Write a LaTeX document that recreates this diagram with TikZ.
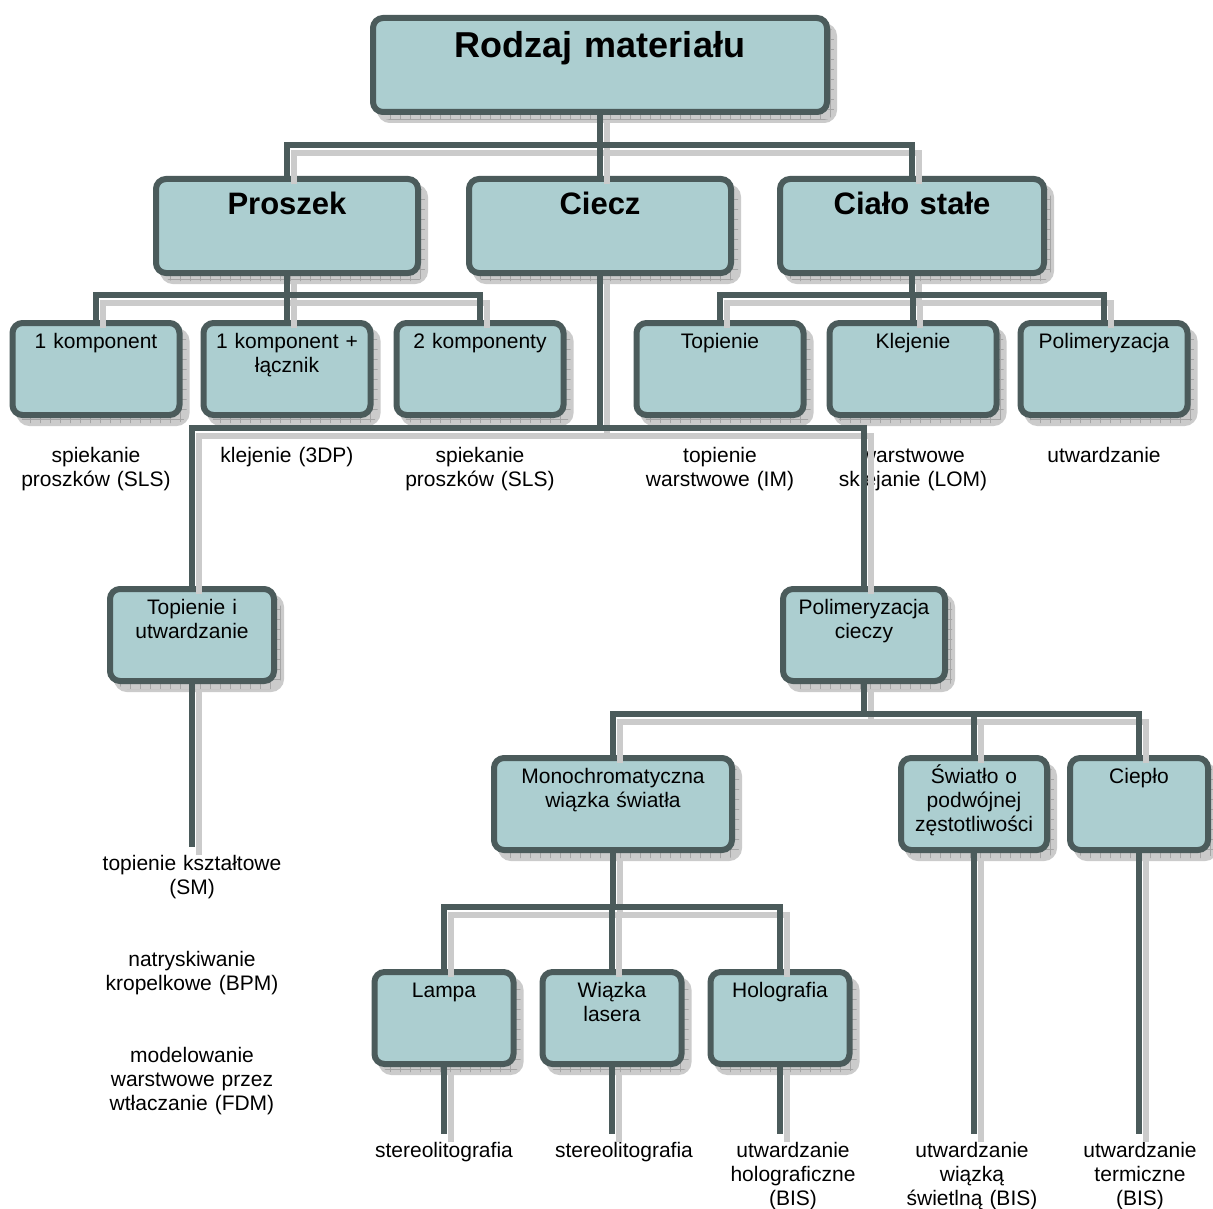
\documentclass[tikz,border=0pt]{standalone}
\usepackage{fontspec}
\setmainfont{Liberation Sans}
\usetikzlibrary{shadows,patterns.meta}

\definecolor{boxfill}{HTML}{ACCED0}
\definecolor{edge}{HTML}{4B5B5B}
\definecolor{shadefill}{HTML}{CBCBCB}
\definecolor{shadegrid}{HTML}{A5A5A5}

\tikzset{
  box/.style={draw=edge, fill=boxfill, line width=6pt, rounded corners=10pt,
    align=center, inner xsep=4pt, anchor=north,
    general shadow={shadow xshift=7pt, shadow yshift=-8pt, fill=shadefill,
      draw=shadefill, line width=6pt,
      postaction={pattern={Hatch[angle=0,distance=10pt,line width=.6pt]},
        pattern color=shadegrid}}},
  top/.style={box, text width=#1, font=\fontsize{36}{40}\selectfont\bfseries,
    inner ysep=14pt, text height=26pt, text depth=40pt},
  big/.style={box, text width=#1, font=\fontsize{31}{36}\selectfont\bfseries,
    inner ysep=14pt, text height=22pt, text depth=44pt},
  small/.style={box, text width=#1, font=\fontsize{21}{24}\selectfont,
    inner ysep=10pt, text height=15pt, text depth=57pt},
  lab/.style={text width=220pt, align=center, anchor=north,
    font=\fontsize{21}{24}\selectfont, inner xsep=0pt, inner ysep=8pt,
    text height=15pt},
  link/.style={draw=edge, line width=6pt},
  linkshade/.style={draw=shadefill, line width=6pt,
    transform canvas={xshift=7pt, yshift=-8pt}}
}

\begin{document}
\begin{tikzpicture}[x=1pt, y=-1pt]
  \fill[white] (0,0) rectangle (1213,1209);
  \useasboundingbox (0,0) rectangle (1213,1209);

  % boxes
  \node[top=446pt] (root) at (600,15) {Rodzaj materiału};
  \node[big=254pt] (proszek) at (287,176) {Proszek};
  \node[big=254pt] (ciecz) at (600,176) {Ciecz};
  \node[big=256pt] (cialo) at (912,176) {Ciało stałe};

  \node[small=159pt] (k1) at (96,320) {1 komponent};
  \node[small=159pt] (k2) at (287,320) {1 komponent +\\łącznik};
  \node[small=159pt] (k3) at (480,320) {2 komponenty};
  \node[small=159pt] (topienie) at (720,320) {Topienie};
  \node[small=159pt] (klejenie) at (913,320) {Klejenie};
  \node[small=159pt] (polim) at (1104,320) {Polimeryzacja};

  \node[small=156pt] (topiutw) at (192,586) {Topienie i\\utwardzanie};
  \node[small=154pt] (polcie) at (864,586) {Polimeryzacja\\cieczy};

  \node[small=230pt] (mono) at (613,755) {Monochromatyczna\\wiązka światła};
  \node[small=138pt] (swiatlo) at (974,755) {Światło o\\podwójnej\\zęstotliwości};
  \node[small=130pt] (cieplo) at (1139,755) {Ciepło};

  \node[small=131pt] (lampa) at (444,969) {Lampa};
  \node[small=131pt] (laser) at (612,969) {Wiązka\\lasera};
  \node[small=131pt] (holo) at (780,969) {Holografia};

  % methods
  \node[lab] (sls1) at (96,439) {spiekanie\\proszków (SLS)};
  \node[lab] (tdp) at (287,439) {klejenie (3DP)};
  \node[lab] (sls2) at (480,439) {spiekanie\\proszków (SLS)};
  \node[lab] (im) at (720,439) {topienie\\warstwowe (IM)};
  \node[lab] (lom) at (913,439) {warstwowe\\sklejanie (LOM)};
  \node[lab] (utw) at (1104,439) {utwardzanie};
  \node[lab] (sm) at (192,847) {topienie kształtowe\\(SM)};
  \node[lab] (bpm) at (192,943) {natryskiwanie\\kropelkowe (BPM)};
  \node[lab] (fdm) at (192,1039) {modelowanie\\warstwowe przez\\wtłaczanie (FDM)};
  \node[lab] (sta) at (444,1134) {stereolitografia};
  \node[lab] (stb) at (624,1134) {stereolitografia};
  \node[lab] (holbis) at (793,1134) {utwardzanie\\holograficzne\\(BIS)};
  \node[lab] (swbis) at (972,1134) {utwardzanie\\wiązką\\świetlną (BIS)};
  \node[lab] (termbis) at (1140,1134) {utwardzanie\\termiczne\\(BIS)};

  \coordinate (busA) at (0,145);
  \coordinate (busB) at (0,295);
  \coordinate (busD) at (0,428);
  \coordinate (busE) at (0,714);
  \coordinate (busF) at (0,907);

  % connectors, shadow first
  \foreach \st in {linkshade,link}{
    \draw[\st] (root.south) -- (root.south |- busA);
    \draw[\st] (proszek.north) -- (proszek.north |- busA) -| (cialo.north);
    \draw[\st] (ciecz.north) -- (ciecz.north |- busA);
    \draw[\st] (proszek.south) -- (proszek.south |- busB);
    \draw[\st] (k1.north) -- (k1.north |- busB) -| (k3.north);
    \draw[\st] (k2.north) -- (k2.north |- busB);
    \draw[\st] (cialo.south) -- (cialo.south |- busB);
    \draw[\st] (topienie.north) -- (topienie.north |- busB) -| (polim.north);
    \draw[\st] (klejenie.north) -- (klejenie.north |- busB);
    \draw[\st] (ciecz.south) -- (ciecz.south |- busD);
    \draw[\st] (topiutw.north) -- (topiutw.north |- busD) -| (polcie.north);
    \draw[\st] (topiutw.south) -- (sm.north);
    \draw[\st] (polcie.south) -- (polcie.south |- busE);
    \draw[\st] (mono.north) -- (mono.north |- busE) -| (cieplo.north);
    \draw[\st] (swiatlo.north) -- (swiatlo.north |- busE);
    \draw[\st] (mono.south) -- (mono.south |- busF);
    \draw[\st] (lampa.north) -- (lampa.north |- busF) -| (holo.north);
    \draw[\st] (laser.north) -- (laser.north |- busF);
    \draw[\st] (lampa.south) -- (lampa.south |- sta.north);
    \draw[\st] (laser.south) -- (laser.south |- stb.north);
    \draw[\st] (holo.south) -- (holo.south |- holbis.north);
    \draw[\st] (swiatlo.south) -- (swiatlo.south |- swbis.north);
    \draw[\st] (cieplo.south) -- (cieplo.south |- termbis.north);
  }
\end{tikzpicture}
\end{document}
